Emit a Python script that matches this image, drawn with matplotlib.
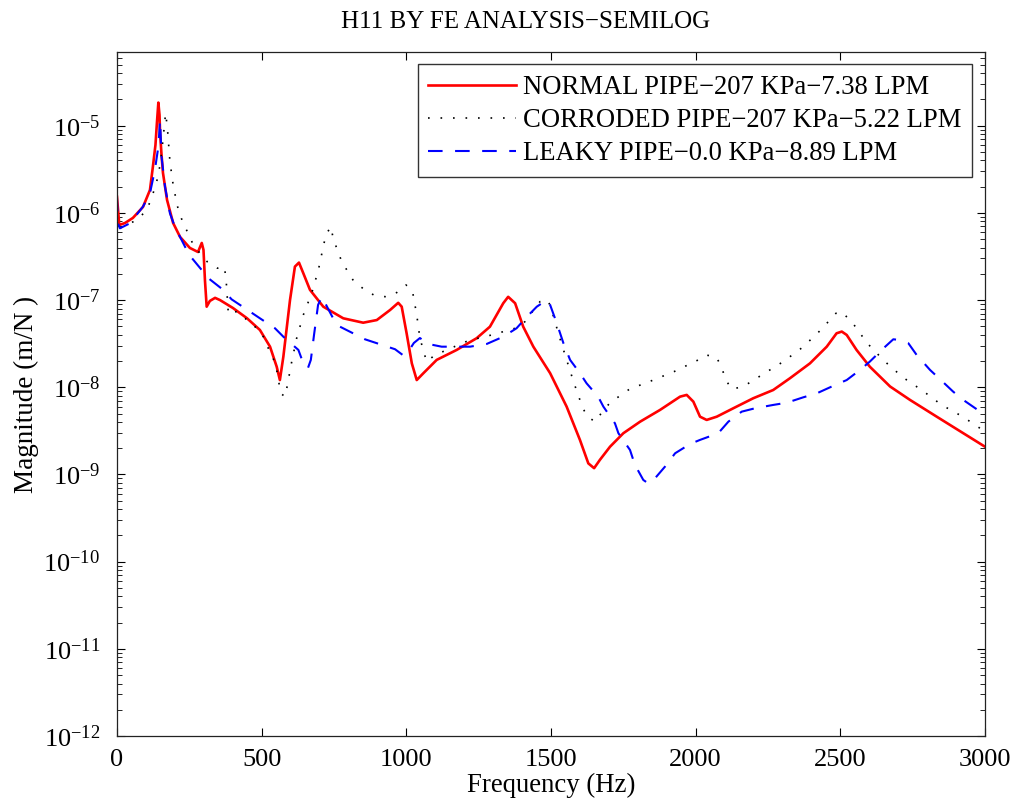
import matplotlib
matplotlib.use("Agg")
import matplotlib.pyplot as plt

# H11 frequency response (Hz, m/N)
freq_normal = [0, 8, 28, 55, 90, 114, 124, 133, 138, 143, 147, 149, 154, 159, 173, 194, 218,
               252, 280, 293, 299, 304, 310, 321, 339, 356, 401, 449, 494, 529, 552, 563, 575,
               598, 615, 629, 644, 667, 713, 782, 851, 898, 944, 972, 984, 1001, 1019, 1036,
               1059, 1105, 1174, 1243, 1289, 1335, 1352, 1376, 1404, 1439, 1497, 1554, 1600,
               1629, 1649, 1669, 1704, 1750, 1808, 1877, 1946, 1969, 1992, 2015, 2038, 2073,
               2130, 2199, 2268, 2326, 2395, 2453, 2487, 2505, 2522, 2556, 2602, 2672, 2741,
               2833, 2925, 3000]
mag_normal = [1.53e-6, 7.26e-7, 7.66e-7, 8.75e-7, 1.17e-6, 1.83e-6, 3.36e-6, 6.0e-6, 1.07e-5,
              1.84e-5, 1.33e-5, 8.25e-6, 4.61e-6, 2.87e-6, 1.41e-6, 7.66e-7, 5.3e-7, 3.96e-7,
              3.56e-7, 4.52e-7, 3.76e-7, 1.70e-7, 8.4e-8, 9.77e-8, 1.06e-7, 1.0e-7, 8.1e-8,
              6.2e-8, 4.54e-8, 2.92e-8, 1.72e-8, 1.21e-8, 2.24e-8, 1.0e-7, 2.42e-7, 2.69e-7,
              2.03e-7, 1.31e-7, 8.4e-8, 6.18e-8, 5.5e-8, 5.9e-8, 7.7e-8, 9.3e-8, 8.4e-8,
              4.16e-8, 1.88e-8, 1.21e-8, 1.45e-8, 2.06e-8, 2.68e-8, 3.65e-8, 4.95e-8, 9.2e-8,
              1.09e-7, 9.2e-8, 4.95e-8, 2.92e-8, 1.45e-8, 6.0e-9, 2.49e-9, 1.34e-9, 1.18e-9,
              1.47e-9, 2.08e-9, 2.97e-9, 4.03e-9, 5.5e-9, 7.8e-9, 8.17e-9, 6.84e-9, 4.6e-9,
              4.22e-9, 4.6e-9, 5.74e-9, 7.48e-9, 9.3e-9, 1.27e-8, 1.88e-8, 2.92e-8, 4.16e-8,
              4.35e-8, 3.98e-8, 2.68e-8, 1.72e-8, 1.02e-8, 7.15e-9, 4.6e-9, 2.97e-9, 2.08e-9]

freq_corroded = [0, 10, 45, 82, 108, 135, 149, 159, 168, 174, 183, 195, 212, 227, 243, 264,
                 287, 312, 347, 371, 377, 385, 414, 442, 477, 506, 523, 540, 552, 566, 581,
                 589, 604, 621, 644, 673, 696, 713, 722, 739, 748, 777, 819, 854, 888, 930,
                 967, 999, 1021, 1036, 1047, 1070, 1099, 1140, 1214, 1295, 1376, 1410, 1462,
                 1490, 1507, 1529, 1554, 1579, 1606, 1623, 1652, 1675, 1704, 1771, 1848, 1925,
                 2004, 2036, 2070, 2090, 2101, 2124, 2165, 2234, 2303, 2370, 2430, 2485, 2506,
                 2545, 2593, 2652, 2716, 2785, 2850, 2923, 3000]
mag_corroded = [9.0e-7, 6.7e-7, 7.5e-7, 9.0e-7, 1.18e-6, 2.09e-6, 3.54e-6, 6.86e-6, 1.39e-5,
                9.7e-6, 3.87e-6, 2.0e-6, 1.08e-6, 7.9e-7, 6.1e-7, 4.28e-7, 3.44e-7, 2.75e-7,
                2.32e-7, 2.42e-7, 1.75e-7, 6.9e-8, 7.4e-8, 6.2e-8, 4.95e-8, 3.8e-8, 2.8e-8,
                2.15e-8, 1.58e-8, 8.5e-9, 7.8e-9, 1.06e-8, 1.97e-8, 3.65e-8, 6.75e-8, 1.2e-7,
                2.21e-7, 4.1e-7, 5.58e-7, 6.95e-7, 4.98e-7, 2.75e-7, 1.63e-7, 1.33e-7, 1.14e-7,
                1.09e-7, 1.22e-7, 1.49e-7, 1.28e-7, 6.75e-8, 3.65e-8, 1.97e-8, 2.34e-8, 2.68e-8,
                3.42e-8, 3.98e-8, 4.75e-8, 5.65e-8, 9.6e-8, 1.0e-7, 6.75e-8, 3.8e-8, 2.06e-8,
                1.13e-8, 6.27e-9, 4.69e-9, 4.03e-9, 5.1e-9, 6.65e-9, 9.5e-9, 1.19e-8, 1.51e-8,
                2.02e-8, 2.34e-8, 2.24e-8, 1.72e-8, 1.27e-8, 9.5e-9, 1.02e-8, 1.42e-8, 1.97e-8,
                2.88e-8, 4.46e-8, 7.06e-8, 7.3e-8, 5.32e-8, 3.2e-8, 2.0e-8, 1.3e-8, 9.1e-9,
                6.27e-9, 4.6e-9, 3.1e-9]

freq_leaky = [0, 3, 10, 45, 90, 114, 131, 143, 149, 154, 166, 183, 200, 235, 250, 293, 316,
              367, 396, 460, 494, 546, 575, 627, 644, 660, 670, 681, 695, 708, 719, 759, 857,
              961, 988, 1006, 1026, 1047, 1075, 1122, 1220, 1278, 1335, 1381, 1416, 1451, 1485,
              1497, 1520, 1543, 1566, 1600, 1623, 1663, 1681, 1721, 1733, 1773, 1790, 1819,
              1836, 1859, 1894, 1929, 1981, 2015, 2078, 2113, 2159, 2205, 2268, 2315, 2372,
              2418, 2476, 2522, 2568, 2602, 2649, 2683, 2706, 2735, 2764, 2810, 2844, 2890,
              2925, 3000]
mag_leaky = [1.53e-6, 7.66e-7, 6.65e-7, 7.6e-7, 1.18e-6, 1.68e-6, 3.1e-6, 5.74e-6, 1.16e-5,
             4.41e-6, 2.0e-6, 9.9e-7, 6.95e-7, 4.1e-7, 3.29e-7, 2.21e-7, 1.78e-7, 1.31e-7,
             1.02e-7, 7.36e-8, 6.18e-8, 4.75e-8, 3.8e-8, 2.68e-8, 1.88e-8, 1.66e-8, 2.06e-8,
             3.98e-8, 8.8e-8, 1.09e-7, 9.3e-8, 5.18e-8, 3.55e-8, 2.73e-8, 2.34e-8, 2.54e-8,
             3.22e-8, 3.67e-8, 3.14e-8, 2.92e-8, 2.92e-8, 3.14e-8, 3.8e-8, 4.75e-8, 6.4e-8,
             8.4e-8, 1.0e-7, 8.8e-8, 5.42e-8, 3.2e-8, 2.06e-8, 1.45e-8, 1.11e-8, 7.8e-9, 6.0e-9,
             3.86e-9, 2.97e-9, 1.91e-9, 1.29e-9, 8.65e-10, 7.9e-10, 9.0e-10, 1.23e-9, 1.75e-9,
             2.24e-9, 2.49e-9, 2.97e-9, 4.03e-9, 5.25e-9, 5.74e-9, 6.27e-9, 6.65e-9, 7.67e-9,
             8.5e-9, 1.04e-8, 1.21e-8, 1.58e-8, 1.97e-8, 2.8e-8, 3.55e-8, 3.48e-8, 3.2e-8,
             2.34e-8, 1.58e-8, 1.24e-8, 8.9e-9, 7.15e-9, 4.81e-9]

labels = ["NORMAL PIPE\u2212207 KPa\u22127.38 LPM",
          "CORRODED PIPE\u2212207 KPa\u22125.22 LPM",
          "LEAKY PIPE\u22120.0 KPa\u22128.89 LPM"]
x_ticks = [0, 500, 1000, 1500, 2000, 2500, 3000]

plt.rcParams['font.family'] = ['Liberation Serif', 'DejaVu Serif']
plt.rcParams['mathtext.fontset'] = 'custom'
plt.rcParams['mathtext.rm'] = 'Liberation Serif'
plt.rcParams['mathtext.it'] = 'Liberation Serif:italic'

fig = plt.figure(figsize=(10.11, 8.06), dpi=100)
ax = fig.add_axes([0.1157, 0.0868, 0.8586, 0.8487])

ax.semilogy(freq_normal, mag_normal, color='#ff0000', lw=1.9, label=labels[0])
ax.semilogy(freq_corroded, mag_corroded, color='black', lw=1.2,
            linestyle=(0, (1, 6.5)), label=labels[1])
ax.semilogy(freq_leaky, mag_leaky, color='#0000ff', lw=1.5,
            linestyle=(0, (7, 6)), label=labels[2])

ax.set_xlim(0, 3000)
ax.set_ylim(1e-12, 7e-5)
ax.set_xticks(x_ticks)
ax.set_xticklabels([str(t) for t in x_ticks])

ax.tick_params(which='both', direction='in', top=True, right=True, labelsize=19)
ax.tick_params(which='major', length=6, width=0.8)
ax.tick_params(which='minor', length=3.5, width=0.6)
ax.tick_params(axis='y', pad=12)
ax.tick_params(axis='x', pad=9)
for s in ax.spines.values():
    s.set_linewidth(0.9)
    s.set_color('#222222')

ax.set_xlabel("Frequency (Hz)", fontsize=19.3, labelpad=2)
ax.set_ylabel("Magnitude (m/N )", fontsize=19.5, labelpad=3)
ax.set_title("H11 BY FE ANALYSIS\u2212SEMILOG", fontsize=18, x=0.471, pad=17)

leg = ax.legend(loc='upper right', bbox_to_anchor=(0.985, 0.982), borderaxespad=0,
                fontsize=19.2, fancybox=False, framealpha=1, edgecolor='#333333',
                handlelength=3.3, handletextpad=0.25, labelspacing=0.3, borderpad=0.4)
leg.get_frame().set_linewidth(1.0)

fig.savefig("out.png", dpi=100)
